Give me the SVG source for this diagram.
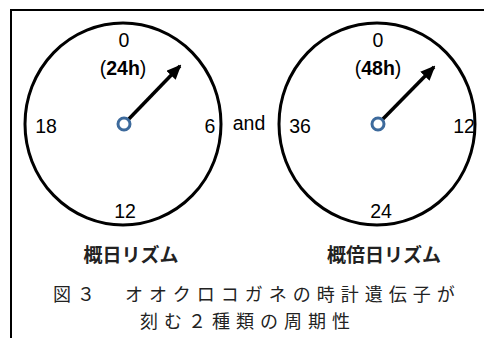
<svg xmlns="http://www.w3.org/2000/svg" width="484" height="338" viewBox="0 0 484 338">
<style>
.face{fill:none;stroke:#000;stroke-width:3}
.hub{fill:#fff;stroke:#3d6a9c;stroke-width:3}
.hand{stroke:#000;stroke-width:3.5;fill:none}
.num{font-family:"Liberation Sans",Arial,sans-serif;font-size:19.5px;fill:#000;text-anchor:middle}
.b{font-weight:bold}
.jp{font-family:"Noto Sans CJK JP",sans-serif;font-size:19px;font-weight:bold;fill:#222;text-anchor:middle}
.cap{font-family:"Noto Sans CJK JP",sans-serif;font-size:18px;letter-spacing:6px;fill:#222}
.frame{stroke:#000;stroke-width:2;fill:none}
</style>
<defs>
<marker id="ah" markerWidth="15" markerHeight="13" refX="13" refY="6.5" orient="auto" markerUnits="userSpaceOnUse" viewBox="0 0 15 13">
<path d="M0,0 L15,6.5 L0,13 Z" fill="#000"/>
</marker>
</defs>
<g id="frame"><path class="frame" d="M11,338 V10 H484"/></g>
<g id="clock1">
<ellipse class="face" cx="123" cy="124" rx="98" ry="101"/>
<text class="num" x="124" y="47">0</text>
<text class="num" x="123" y="75">(<tspan class="b">24h</tspan>)</text>
<text class="num" x="46" y="133">18</text>
<text class="num" x="210" y="133">6</text>
<text class="num" x="125" y="218">12</text>
</g>
<g id="clock2">
<ellipse class="face" cx="377" cy="124" rx="98" ry="101"/>
<text class="num" x="378" y="47">0</text>
<text class="num" x="378" y="75">(<tspan class="b">48h</tspan>)</text>
<text class="num" x="300" y="133">36</text>
<text class="num" x="464" y="133">12</text>
<text class="num" x="381" y="218">24</text>
</g>
<g id="connectors">
<line class="hand" x1="124" y1="124" x2="180" y2="66" marker-end="url(#ah)"/>
<line class="hand" x1="378" y1="124" x2="434" y2="67" marker-end="url(#ah)"/>
</g>
<g id="hubs">
<circle class="hub" cx="124" cy="124" r="6"/>
<circle class="hub" cx="378" cy="124" r="6"/>
</g>
<g id="and"><text class="num" x="249" y="130">and</text></g>
<g id="label1"><text class="jp" x="131" y="262">概日リズム</text></g>
<g id="label2"><text class="jp" x="384" y="262">概倍日リズム</text></g>
<g id="caption">
<text class="cap" x="53" y="301">図３　オオクロコガネの時計遺伝子が</text>
<text class="cap" x="140" y="328">刻む２種類の周期性</text>
</g>
</svg>
